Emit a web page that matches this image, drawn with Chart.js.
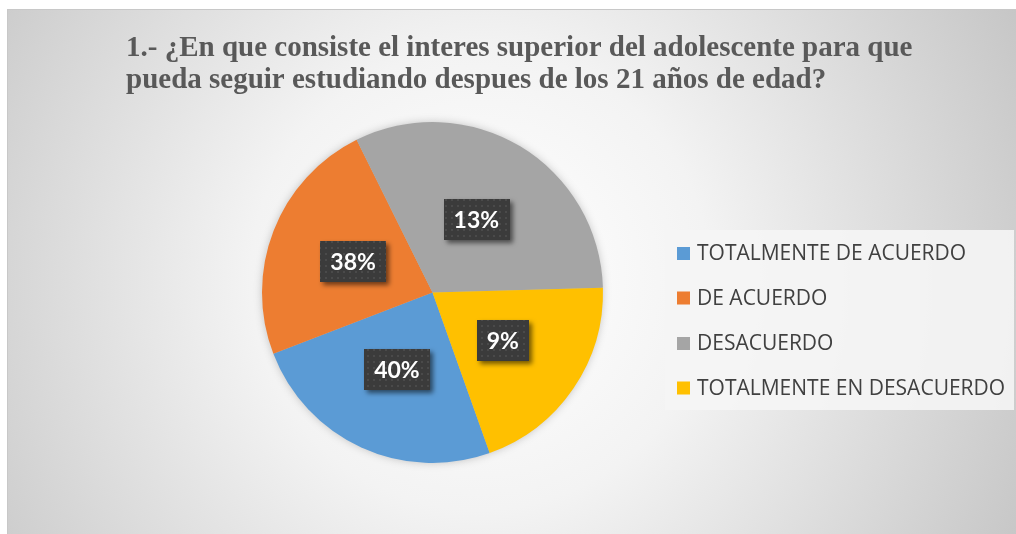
<!DOCTYPE html>
<html>
<head>
<meta charset="utf-8">
<script src="https://cdn.jsdelivr.net/npm/chart.js@4.4.1/dist/chart.umd.min.js"></script>
<style>
  html, body { margin: 0; padding: 0; background: #fff; }
  #wrap { width: 1016px; height: 534px; position: relative; }
</style>
</head>
<body>
<div id="wrap"><canvas id="chart1" width="1016" height="534"></canvas></div>
<script>
// data
const titleLines = [
  '1.- ¿En que consiste el interes superior del adolescente para que',
  'pueda seguir estudiando despues de los 21 años de edad?'
];
const categories = ['TOTALMENTE DE ACUERDO', 'DE ACUERDO', 'DESACUERDO', 'TOTALMENTE EN DESACUERDO'];
const sliceValues = [24.6, 23.5, 31.9, 20.0];   // slice sizes as drawn
const labelTexts = ['40%', '38%', '13%', '9%'];  // labels as typed on the chart

const sliceColors = ['#5B9BD5', '#ED7D31', '#A5A5A5', '#FFC000'];

// background: framed panel with radial light in the middle
const bgPlugin = {
  id: 'bg',
  beforeDraw(chart) {
    const ctx = chart.ctx;
    ctx.save();
    ctx.fillStyle = '#fff';
    ctx.fillRect(0, 0, 1016, 534);
    const g = ctx.createRadialGradient(480, 280, 20, 480, 280, 620);
    g.addColorStop(0, '#ffffff');
    g.addColorStop(0.35, '#f3f3f3');
    g.addColorStop(1, '#c4c4c4');
    ctx.fillStyle = g;
    ctx.fillRect(7, 9, 1009, 525);
    ctx.strokeStyle = '#c8c8c8';
    ctx.lineWidth = 1;
    ctx.strokeRect(7.5, 9.5, 1010, 530);
    ctx.restore();
  },
  beforeDatasetsDraw(chart) {
    // soft shadow under the pie
    const arc = chart.getDatasetMeta(0).data[0];
    if (!arc) return;
    const ctx = chart.ctx;
    ctx.save();
    ctx.shadowColor = 'rgba(0,0,0,0.25)';
    ctx.shadowBlur = 10;
    ctx.fillStyle = '#bbb';
    ctx.beginPath();
    ctx.arc(arc.x, arc.y, arc.outerRadius - 1, 0, Math.PI * 2);
    ctx.fill();
    ctx.restore();
  }
};

const titlePlugin = {
  id: 'titleText',
  afterDraw(chart) {
    const ctx = chart.ctx;
    ctx.save();
    ctx.font = 'bold 29px "Liberation Serif"';
    ctx.fillStyle = '#595959';
    ctx.textBaseline = 'alphabetic';
    ctx.fillText(titleLines[0], 126, 56);
    ctx.fillText(titleLines[1], 126, 88);
    ctx.restore();
  }
};

function dotPattern(ctx) {
  const c = document.createElement('canvas');
  c.width = 6; c.height = 6;
  const p = c.getContext('2d');
  p.fillStyle = '#3b3b3b';
  p.fillRect(0, 0, 6, 6);
  p.fillStyle = '#4a4a4a';
  p.fillRect(1, 1, 2, 2);
  return ctx.createPattern(c, 'repeat');
}

const labelPlugin = {
  id: 'boxLabels',
  afterDatasetsDraw(chart) {
    const ctx = chart.ctx;
    const meta = chart.getDatasetMeta(0);
    const pat = dotPattern(ctx);
    ctx.save();
    ctx.font = 'bold 23px Lato';
    ctx.textAlign = 'center';
    ctx.textBaseline = 'middle';
    meta.data.forEach((arc, i) => {
      const pos = arc.tooltipPosition();
      const txt = labelTexts[i];
      const w = ctx.measureText(txt).width + 20;
      const h = 41;
      ctx.save();
      ctx.shadowColor = 'rgba(0,0,0,0.55)';
      ctx.shadowBlur = 5;
      ctx.shadowOffsetX = 3;
      ctx.shadowOffsetY = 3;
      ctx.fillStyle = pat;
      ctx.fillRect(Math.round(pos.x - w / 2), Math.round(pos.y - h / 2), Math.round(w), h);
      ctx.restore();
      ctx.fillStyle = '#ffffff';
      ctx.fillText(txt, pos.x, pos.y + 1);
    });
    ctx.restore();
  }
};

const legendPlugin = {
  id: 'sideLegend',
  afterDraw(chart) {
    const ctx = chart.ctx;
    ctx.save();
    ctx.fillStyle = 'rgba(245,245,245,0.9)';
    ctx.fillRect(665, 230, 349, 180);
    ctx.font = '21px "Open Sans"';
    ctx.textBaseline = 'middle';
    const rows = [253.5, 298, 343.5, 388];
    categories.forEach((name, i) => {
      ctx.fillStyle = sliceColors[i];
      ctx.fillRect(677, rows[i] - 6.5, 13, 13);
      ctx.fillStyle = '#404040';
      ctx.fillText(name, 697, rows[i] + 1);
    });
    ctx.restore();
  }
};

new Chart('chart1', {
  type: 'pie',
  data: {
    labels: categories,
    datasets: [{
      data: sliceValues,
      backgroundColor: sliceColors,
      borderWidth: 0
    }]
  },
  options: {
    responsive: false,
    animation: false,
    events: [],
    rotation: 160.4,
    layout: { padding: { left: 262, right: 413, top: 122, bottom: 71 } },
    plugins: {
      legend: { display: false },
      title: { display: false },
      tooltip: { enabled: false }
    }
  },
  plugins: [bgPlugin, titlePlugin, labelPlugin, legendPlugin]
});
</script>
</body>
</html>
